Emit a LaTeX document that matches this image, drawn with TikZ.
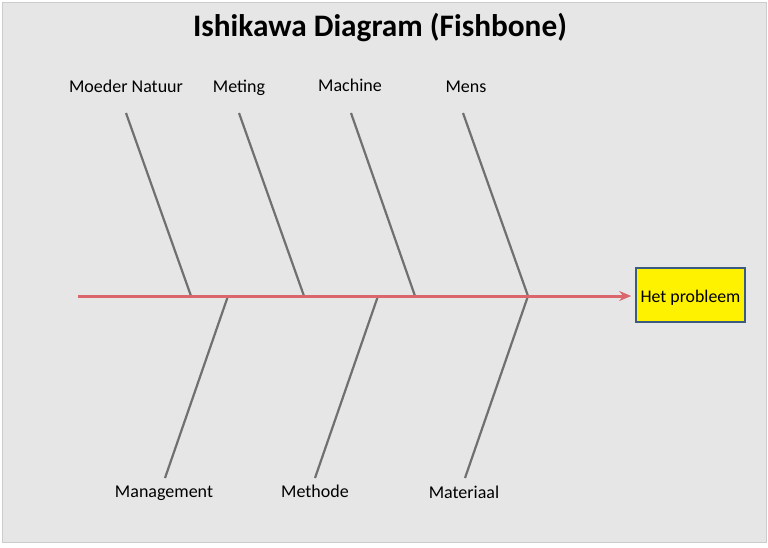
\documentclass[tikz,border=0pt]{standalone}
\usepackage{fontspec}
\setmainfont{Carlito}
\usetikzlibrary{arrows.meta}
\definecolor{bg}{HTML}{E6E6E6}
\definecolor{frame}{HTML}{CCCCCC}
\definecolor{spinecol}{HTML}{D9676C}
\definecolor{bonecol}{HTML}{707070}
\definecolor{boxedge}{HTML}{3B5B80}
\tikzset{
  bone/.style={draw=bonecol, line width=2.2pt},
  spine/.style={draw=spinecol, line width=3pt, -{Stealth[length=12pt,width=10pt]}},
  cause/.style={font=\fontsize{18}{21}\selectfont, inner sep=0pt, anchor=base},
  probbox/.style={draw=boxedge, line width=1.6pt, fill=yellow, minimum width=109pt, minimum height=54pt, text height=15pt, text depth=0pt, font=\fontsize{17.8}{21}\selectfont},
}
\begin{document}
\begin{tikzpicture}[x=1pt,y=-1pt]
\useasboundingbox (0,0) rectangle (768,547);
\fill[white] (0,0) rectangle (768,547);
\filldraw[fill=bg, draw=frame, line width=1pt] (2,2) rectangle (766,542);
\node[font=\bfseries\fontsize{31.3}{36}\selectfont] (title) at (380,28) {Ishikawa Diagram (Fishbone)};
\node[probbox] (prob) at (690.5,295) {Het probleem};
\coordinate (tail) at (78,296);
% upper bones
\node[cause] (c1) at (126,92) {Moeder Natuur};
\node[cause] (c2) at (239,92) {Meting};
\node[cause] (c3) at (350,91) {Machine};
\node[cause] (c4) at (466,92) {Mens};
\coordinate (t1) at (126,113); \coordinate (j1) at (191,296);
\coordinate (t2) at (239,113); \coordinate (j2) at (304,296);
\coordinate (t3) at (351,113); \coordinate (j3) at (415,296);
\coordinate (t4) at (463,113); \coordinate (j4) at (528,296);
% lower bones
\node[cause] (c5) at (164,497) {Management};
\node[cause] (c6) at (315,497) {Methode};
\node[cause] (c7) at (464,498) {Materiaal};
\coordinate (b5) at (165,478); \coordinate (k5) at (228,296);
\coordinate (b6) at (315,478); \coordinate (k6) at (378,296);
\coordinate (b7) at (465,478); \coordinate (k7) at (528,296);
\draw[bone] (t1) -- (j1);
\draw[bone] (t2) -- (j2);
\draw[bone] (t3) -- (j3);
\draw[bone] (t4) -- (j4);
\draw[bone] (b5) -- (k5);
\draw[bone] (b6) -- (k6);
\draw[bone] (b7) -- (k7);
\draw[spine, shorten >=4pt] (tail) -- (prob.west |- tail);
\end{tikzpicture}
\end{document}
